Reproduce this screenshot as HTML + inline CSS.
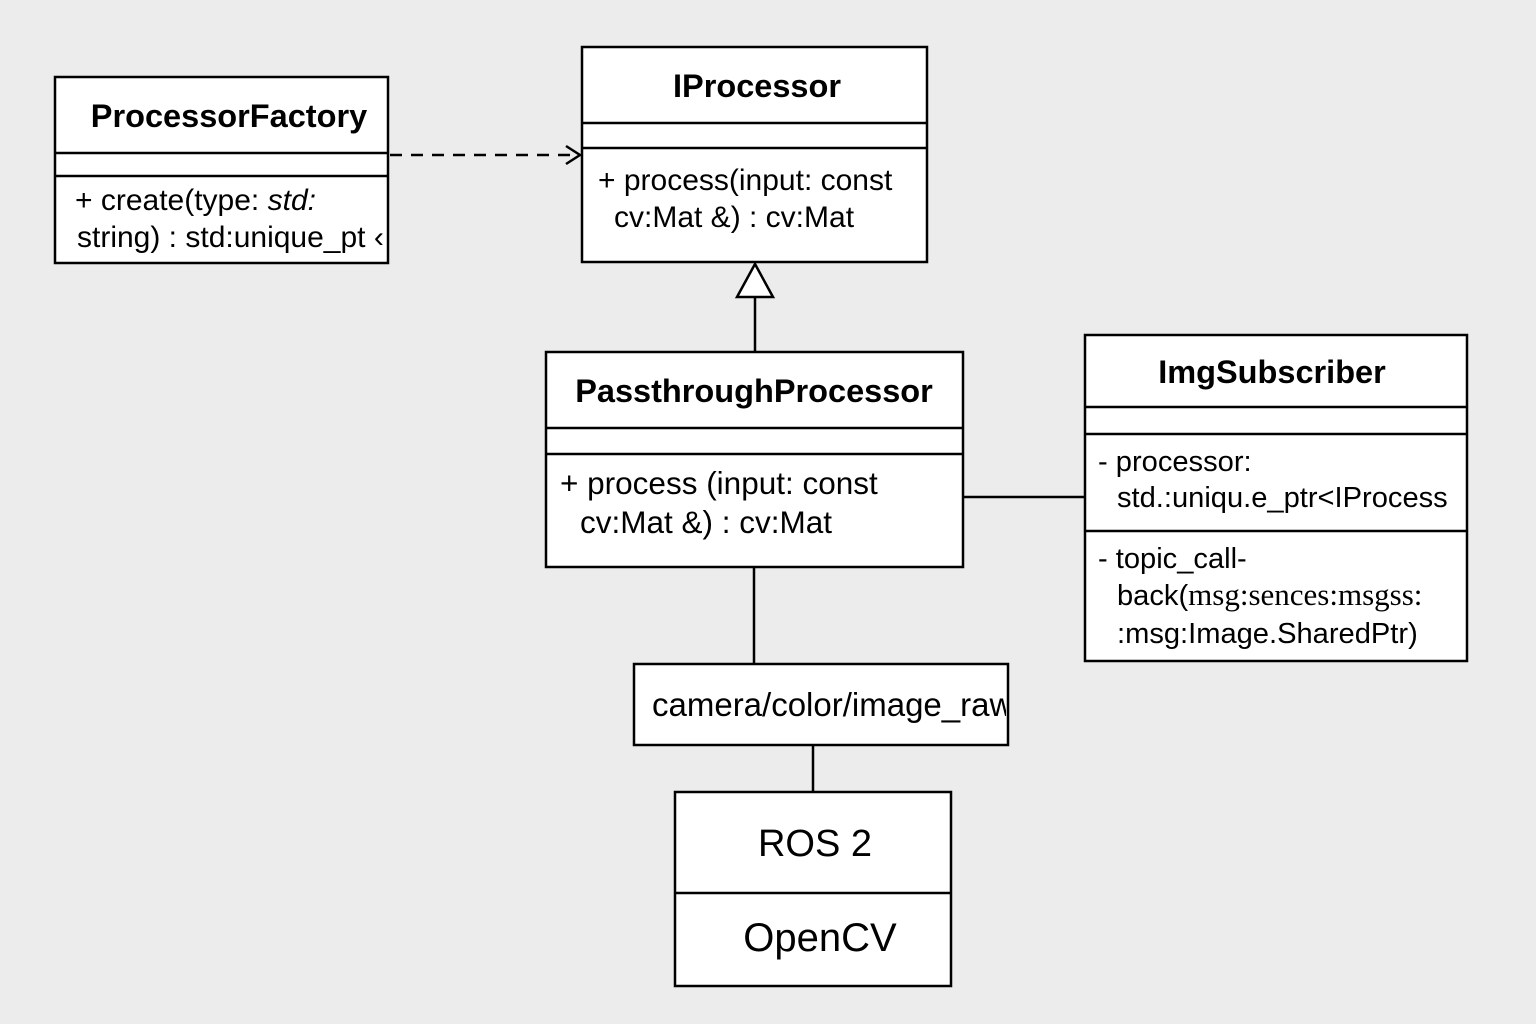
<!DOCTYPE html>
<html><head><style>
html,body{margin:0;padding:0;background:#ececec;}
svg{display:block;}
text{font-family:"Liberation Sans",sans-serif;fill:#000;}
.t{font-weight:bold;font-size:32.5px;text-anchor:middle;}
.b{font-size:30px;}
</style></head><body>
<svg width="1536" height="1024" viewBox="0 0 1536 1024">
<rect width="1536" height="1024" fill="#ececec"/>
<g stroke="#000" stroke-width="2.5" fill="#fff">
<rect x="55" y="77" width="333" height="186"/>
<rect x="582" y="47" width="345" height="215"/>
<rect x="546" y="352" width="417" height="215"/>
<rect x="1085" y="335" width="382" height="326"/>
<rect x="634" y="664" width="374" height="81"/>
<rect x="675" y="792" width="276" height="194"/>
</g>
<g stroke="#000" stroke-width="2.5" fill="none">
<line x1="55" y1="153" x2="388" y2="153"/><line x1="55" y1="176" x2="388" y2="176"/>
<line x1="582" y1="123" x2="927" y2="123"/><line x1="582" y1="148" x2="927" y2="148"/>
<line x1="546" y1="428" x2="963" y2="428"/><line x1="546" y1="454" x2="963" y2="454"/>
<line x1="1085" y1="407" x2="1467" y2="407"/><line x1="1085" y1="434" x2="1467" y2="434"/><line x1="1085" y1="531" x2="1467" y2="531"/>
<line x1="675" y1="893" x2="951" y2="893"/>
<line x1="390" y1="155" x2="578" y2="155" stroke-dasharray="12,9"/>
<polyline points="566,146 580,155 566,164"/>
<polygon points="755,264 737,297 773,297" fill="#fff"/>
<line x1="755" y1="297" x2="755" y2="352"/>
<line x1="963" y1="497" x2="1085" y2="497"/>
<line x1="754" y1="567" x2="754" y2="664"/>
<line x1="813" y1="745" x2="813" y2="792"/>
</g>
<text class="t" x="229" y="127">ProcessorFactory</text>
<text class="b" x="75" y="210">+ create(type: <tspan font-style="italic">std:</tspan></text>
<text class="b" x="77" y="247">string) : std:unique_pt ‹</text>
<text class="t" x="757" y="97">IProcessor</text>
<text class="b" x="598" y="190">+ process(input: const</text>
<text class="b" x="614" y="227">cv:Mat &amp;) : cv:Mat</text>
<text class="t" x="754" y="402">PassthroughProcessor</text>
<text class="b" x="560" y="494" style="font-size:31.5px">+ process (input: const</text>
<text class="b" x="580" y="533" style="font-size:31.5px">cv:Mat &amp;)  : cv:Mat</text>
<text class="t" x="1272" y="383">ImgSubscriber</text>
<text class="b" x="1098" y="471" style="font-size:29.1px">- processor:</text>
<text class="b" x="1117" y="507" style="font-size:29.1px">std.:uniqu.e_ptr&lt;IProcess</text>
<text class="b" x="1098" y="568" style="font-size:29.1px">- topic_call-</text>
<text class="b" x="1117" y="605" style="font-size:29.1px">back(<tspan font-family="Liberation Serif" style="font-size:31px">msg:sences:msgss:</tspan></text>
<text class="b" x="1117" y="643" style="font-size:29.1px">:msg:Image.SharedPtr)</text>
<svg x="634" y="664" width="372" height="81"><text class="b" x="18" y="52" style="font-size:33px">camera/color/image_raw</text></svg>
<text x="815" y="856" font-size="38" text-anchor="middle">ROS 2</text>
<text x="820" y="951" font-size="40" text-anchor="middle">OpenCV</text>
</svg>
</body></html>
